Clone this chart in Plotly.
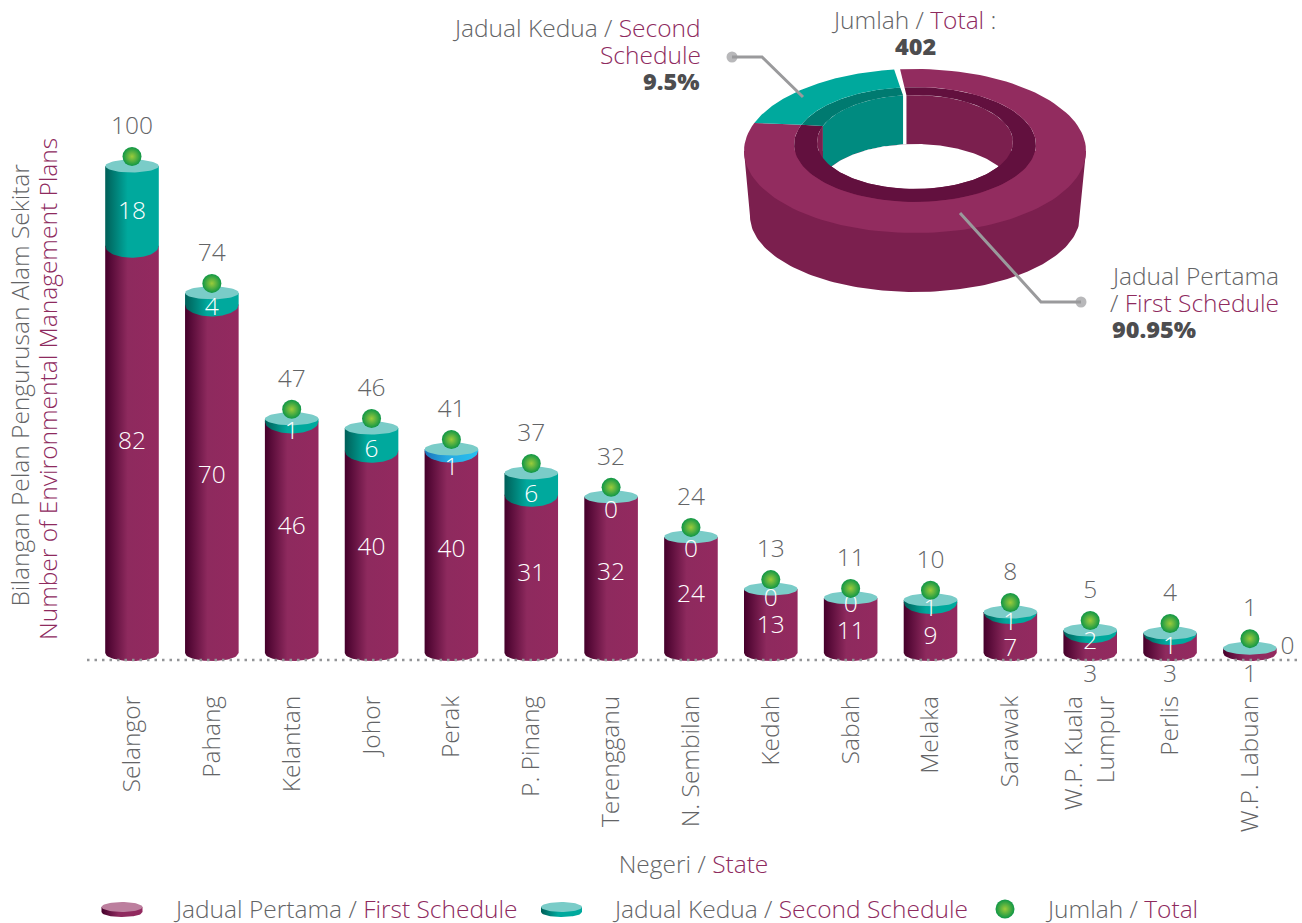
import numpy as np
import plotly.graph_objects as go

# ---------- data ----------
states = ["Selangor", "Pahang", "Kelantan", "Johor", "Perak", "P. Pinang", "Terengganu", "N. Sembilan",
          "Kedah", "Sabah", "Melaka", "Sarawak", "W.P. Kuala<br>Lumpur", "Perlis", "W.P. Labuan"]
first_schedule = [82, 70, 46, 40, 40, 31, 32, 24, 13, 11, 9, 7, 3, 3, 1]
second_schedule = [18, 4, 1, 6, 1, 6, 0, 0, 0, 0, 1, 1, 2, 1, 0]
totals = [100, 74, 47, 46, 41, 37, 32, 24, 13, 11, 10, 8, 5, 4, 1]
# bar heights as the picture draws them (the artwork is slightly off its own labels)
drawn_totals = [100, 74, 48.2, 46.3, 42, 37.1, 32.2, 24, 13.3, 11.5, 11.1, 8.6, 4.9, 4.3, 1.2]
donut_shares_as_drawn = [82.5, 17.5]   # the drawn wedge

# ---------- layout geometry ----------
W, H = 1302, 923
X0_PX, X_STEP = 132.0, 79.85
BASE_PX, PX_PER_UNIT = 654.0, 4.88
AX_LEFT, AX_RIGHT, AX_TOP, AX_BOTTOM = 87, 1300, 100, 690
BASELINE_PX = 660
HALF_W = 26.8 / X_STEP
first_label_px = [440, 474, 525, 546, 548, 572, 571, 593, 624, 630, 635, 647, 673, 673, 673]
second_label_px = [210, 306, 430, 448, 466, 493, 509, 548, 597, 603, 607, 621, 640, 645, 645]
TEXT_SHIFT = 2.5

GREY, MAROON, DARK = "#636466", "#8E2A5E", "#4D4D4F"
FONT = "Open Sans"
TS = 24.5
BOLD = 23.5
MAROON_GRAD = [[0, "#45002B"], [0.42, "#8E2A5E"], [1, "#93295F"]]
TEAL_GRAD = [[0, "#005F58"], [0.42, "#00A99D"], [1, "#00A99D"]]
BLUE_GRAD = [[0, "#1B75BC"], [0.42, "#27AAE1"], [1, "#27C0F0"]]
CAP = "#7ACCC8"
DOT_EDGE, DOT_CORE = "#0E9646", "#9CCB3B"


def val(px):
    return (BASE_PX - px) / PX_PER_UNIT


def pv(units):
    return units / PX_PER_UNIT


def grey(s):
    return f'<span style="color:{GREY}">{s}</span>'


def red(s):
    return f'<span style="color:{MAROON}">{s}</span>'


fig = go.Figure()
dx = np.linspace(-1, 1, 41)
bow = np.sqrt(1 - dx ** 2)


def cyl(i, top_edge, low_edge, low_bow, grad, name):
    xs = i + dx * HALF_W
    x = np.r_[xs, xs[::-1]]
    y = np.r_[np.full_like(xs, top_edge), (low_edge - low_bow * bow)[::-1]]
    fig.add_trace(go.Scatter(
        x=x, y=y, mode="lines", fill="toself", line=dict(width=0), showlegend=False, name=name,
        hoverinfo="skip",
        fillgradient=dict(type="horizontal", colorscale=grad, start=i - HALF_W, stop=i + HALF_W)))


for i, (a, b, t) in enumerate(zip(first_schedule, second_schedule, drawn_totals)):
    # boundary between the two segments: a bowed edge whose lowest point sits just below the value
    edge_b = a + pv(8)
    if b == 0 or edge_b > t:
        edge_b = t
    cyl(i, edge_b, pv(1), pv(8), MAROON_GRAD, "Jadual Pertama")
    if b > 0:
        grad = BLUE_GRAD if states[i] == "Perak" else TEAL_GRAD
        cyl(i, t, edge_b, pv(12), grad, "Jadual Kedua")
    ang = np.linspace(0, 2 * np.pi, 61)
    fig.add_trace(go.Scatter(
        x=i + HALF_W * np.cos(ang), y=t + pv(6.5) * np.sin(ang), mode="lines", fill="toself",
        fillcolor=CAP, line=dict(width=0), showlegend=False, hoverinfo="skip"))

idx = list(range(len(states)))
# value labels
fig.add_trace(go.Scatter(
    x=idx, y=[val(p + TEXT_SHIFT) for p in first_label_px], mode="text", text=[str(v) for v in first_schedule],
    textposition="middle center", cliponaxis=False, showlegend=False, hoverinfo="skip",
    textfont=dict(family=FONT, size=TS, weight=300, color=["#FFFFFF"] * 12 + [GREY] * 3)))
fig.add_trace(go.Scatter(
    x=idx[:-1] + [idx[-1] + 0.47], y=[val(p + TEXT_SHIFT) for p in second_label_px], mode="text",
    text=[str(v) for v in second_schedule], textposition="middle center", cliponaxis=False,
    showlegend=False, hoverinfo="skip",
    textfont=dict(family=FONT, size=TS, weight=300, color=["#FFFFFF"] * 14 + [GREY])))
# totals
fig.add_trace(go.Scatter(
    x=idx, y=[t + pv(9.5) for t in drawn_totals], mode="markers", showlegend=False, hoverinfo="skip",
    cliponaxis=False,
    marker=dict(size=19, color=DOT_EDGE, gradient=dict(type="radial", color=DOT_CORE), line=dict(width=0))))
fig.add_trace(go.Scatter(
    x=idx, y=[t + pv(40.5 - TEXT_SHIFT) for t in drawn_totals], mode="text", text=[str(t) for t in totals],
    textposition="middle center", cliponaxis=False, showlegend=False, hoverinfo="skip",
    textfont=dict(family=FONT, size=TS, weight=300, color=GREY)))


# ---------- donut, in pixel-like secondary axes ----------
def poly(x, y, color):
    fig.add_trace(go.Scatter(x=x, y=y, xaxis="x2", yaxis="y2", mode="lines", fill="toself", fillcolor=color,
                             line=dict(width=0), showlegend=False, hoverinfo="skip"))


def arc(c, t0, t1, n=120):
    t = np.radians(np.linspace(t0, t1, n))
    return c[0] + c[2] * np.sin(t), c[1] - c[3] * np.cos(t)


OUTER = (915, 151, 171, 82)
RIM = (915, 144.5, 121, 57.5)
WALL = (915, 142, 98, 47)
WALL_LOW = (915, 191, 98, 47)
BASE = (915, 216, 165, 76)

gap = 2.0
teal_end = -7.0
teal_start = teal_end - donut_shares_as_drawn[1] * 3.6
m_start = teal_end + gap
m_end = teal_start + 360

# outer side
bx, by = arc(BASE, 90, 270)
poly(np.r_[1086, bx, 744], np.r_[151, by, 151], "#7B1F4E")
# inner wall
ax1, ay1 = arc(WALL, m_start, m_end)
lx1, ly1 = arc(WALL_LOW, m_end - 360, m_start)
poly(np.r_[ax1, lx1], np.r_[ay1, ly1], "#7B1F4E")
tx1, ty1 = arc(WALL, teal_start, teal_end)
tx2, ty2 = arc(WALL_LOW, teal_end, teal_start)
poly(np.r_[tx1, tx2], np.r_[ty1, ty2], "#008B80")
# the hole: what is left of the wall ellipse below the far wall
hx = np.linspace(-83.5, 83.5, 121)
hx_low = 142 + 47 * np.sqrt(1 - (hx / 98) ** 2)
hx_up = 191 - 47 * np.sqrt(1 - (hx / 98) ** 2)
poly(np.r_[915 + hx, 915 + hx[::-1]], np.r_[hx_up, hx_low[::-1]], "#FFFFFF")


def ring(c1, c2, t0, t1, color):
    x1, y1 = arc(c1, t0, t1)
    x2, y2 = arc(c2, t1, t0)
    poly(np.r_[x1, x2], np.r_[y1, y2], color)


ring(RIM, WALL, m_start, m_end, "#62103E")
ring(RIM, WALL, teal_start, teal_end, "#007A70")
ring(OUTER, RIM, m_start, m_end, "#922C5F")
ring(OUTER, RIM, teal_start, teal_end, "#00A99D")

# leaders
for lx, ly in (([732, 762, 803], [57, 57, 97]), ([1081, 1041, 960], [302, 302, 213])):
    fig.add_trace(go.Scatter(x=lx, y=ly, xaxis="x2", yaxis="y2", mode="lines+markers", showlegend=False,
                             hoverinfo="skip", line=dict(color="#9A9A9C", width=3),
                             marker=dict(size=[11, 0, 0], color="#9A9A9C", line=dict(width=0))))


# ---------- legend glyphs ----------
def glyph(cx, cy, rx, ry, depth, grad, top):
    xs = cx + rx * dx
    x = np.r_[xs, xs[::-1]]
    y = np.r_[np.full_like(xs, cy), (cy + depth + ry * bow)[::-1]]
    fig.add_trace(go.Scatter(x=x, y=y, xaxis="x2", yaxis="y2", mode="lines", fill="toself",
                             line=dict(width=0), showlegend=False, hoverinfo="skip",
                             fillgradient=dict(type="horizontal", colorscale=grad, start=cx - rx, stop=cx + rx)))
    ang = np.linspace(0, 2 * np.pi, 61)
    poly(cx + rx * np.cos(ang), cy + ry * np.sin(ang), top)


glyph(122, 907, 20.5, 5, 5, MAROON_GRAD, "#BC7F9E")
glyph(561.5, 907, 20.5, 5, 5, TEAL_GRAD, CAP)
fig.add_trace(go.Scatter(x=[1005], y=[909], xaxis="x2", yaxis="y2", mode="markers", showlegend=False,
                         hoverinfo="skip",
                         marker=dict(size=19, color=DOT_EDGE, gradient=dict(type="radial", color=DOT_CORE),
                                     line=dict(width=0))))


# ---------- text ----------
def note(x, y, text, anchor="left", size=TS, color=GREY, angle=0, weight=300):
    fig.add_annotation(x=x, y=y, xref="x2", yref="y2", text=text, showarrow=False, xanchor=anchor, yanchor="middle",
                       align=anchor, textangle=angle, font=dict(family=FONT, size=size, color=color, weight=weight))


note(703, 27, grey("Jadual Kedua / ") + red("Second"), "right")
note(703, 54, red("Schedule"), "right")
note(702, 81, "9.5%", "right", size=BOLD, color=DARK, weight=800)
note(913, 19, grey("Jumlah / ") + red("Total") + grey(" :"), "center")
note(915, 46, "402", "center", size=BOLD, color=DARK, weight=800)
note(1108, 275, grey("Jadual Pertama"))
note(1108, 302, grey("/ ") + red("First Schedule"))
note(1110, 329, "90.95%", size=BOLD, color=DARK, weight=800)
note(171, 908, grey("Jadual Pertama / ") + red("First Schedule"))
note(610, 908, grey("Jadual Kedua / ") + red("Second Schedule"))
note(1043, 908, grey("Jumlah / ") + red("Total"))
note(19, 385.5, grey("Bilangan Pelan Pengurusan Alam Sekitar"), "center", angle=-90)
note(47, 389, red("Number of Environmental Management Plans"), "center", angle=-90)

fig.update_layout(
    width=W, height=H, margin=dict(l=0, r=0, t=0, b=0), paper_bgcolor="white", plot_bgcolor="rgba(0,0,0,0)",
    hovermode=False, showlegend=False,
    font=dict(family=FONT, size=TS, color=GREY, weight=300),
    xaxis=dict(domain=[AX_LEFT / W, AX_RIGHT / W],
               range=[(AX_LEFT - X0_PX) / X_STEP, (AX_RIGHT - X0_PX) / X_STEP],
               tickmode="array", tickvals=idx, ticktext=states, tickangle=-90, ticks="", showgrid=False,
               zeroline=False, showline=False, ticklabelstandoff=0,
               tickfont=dict(family=FONT, size=TS, color=GREY, weight=300),
               title=dict(text=grey("Negeri / ") + red("State"), standoff=24,
                          font=dict(family=FONT, size=TS, color=GREY, weight=300))),
    yaxis=dict(domain=[1 - AX_BOTTOM / H, 1 - AX_TOP / H], range=[val(AX_BOTTOM), val(AX_TOP)],
               showticklabels=False, ticks="", showgrid=False, zeroline=False, showline=False),
    xaxis2=dict(domain=[0, 1], range=[0, W], anchor="y2", visible=False),
    yaxis2=dict(domain=[0, 1], range=[H, 0], anchor="x2", visible=False),
    shapes=[dict(type="line", xref="x", yref="y", x0=(AX_LEFT - X0_PX) / X_STEP, x1=(AX_RIGHT - X0_PX) / X_STEP,
                 y0=val(BASELINE_PX), y1=val(BASELINE_PX),
                 line=dict(color="#939598", width=2.5, dash="2.5px,5px"))],
)

fig.write_html("out.html", config=dict(displayModeBar=False),
               post_script="document.body.style.margin='0';document.documentElement.style.overflow='hidden';")
